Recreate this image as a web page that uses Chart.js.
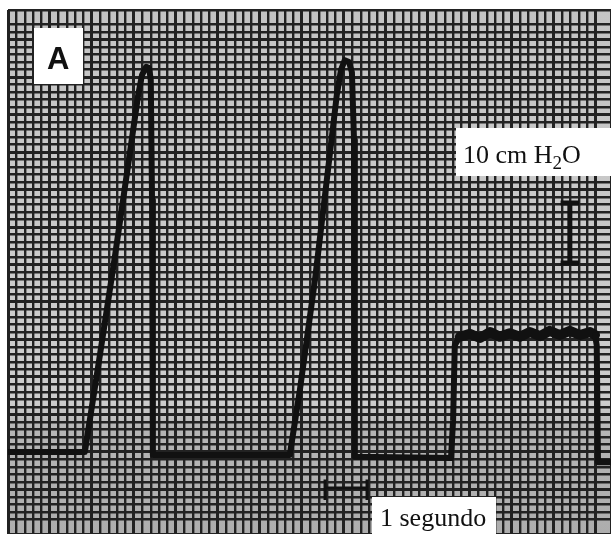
<!DOCTYPE html>
<html>
<head>
<meta charset="utf-8">
<script src="https://cdn.jsdelivr.net/npm/chart.js@4/dist/chart.umd.min.js"></script>
<style>
  html, body { margin: 0; padding: 0; background: #fff; }
  #wrap { width: 611px; height: 534px; }
</style>
</head>
<body>
<div id="wrap"><canvas id="presion"></canvas></div>
<script>
const tiempo = [0, 1.83, 2.19, 2.55, 2.86, 3.10, 3.19, 3.29, 3.36, 3.40, 3.43, 3.45,
  6.71, 6.95, 7.31, 7.62, 7.83, 7.93, 8.02, 8.12, 8.19, 8.24, 8.26,
  10.55, 10.60, 10.64, 10.76, 11.00, 11.24, 11.48, 11.71, 11.95, 12.19, 12.43,
  12.67, 12.90, 13.14, 13.38, 13.62, 13.86, 13.98, 14.02, 14.05, 14.36];
const presion = [0, 0, 16.2, 32.8, 47.8, 59.5, 62.8, 64.2, 64.0, 62.0, 42.0, -0.5,
  -0.5, 10.3, 28.7, 47.0, 59.5, 63.7, 65.3, 65.0, 63.3, 52.0, -0.8,
  -1.0, 5.3, 17.8, 19.2, 19.7, 19.0, 20.0, 19.2, 19.8, 19.2, 20.0,
  19.3, 20.2, 19.5, 20.2, 19.5, 20.0, 19.5, 17.8, -1.7, -1.7];

// barras de escala: 10 cm H2O y 1 segundo
const escalaPresion = { t: 13.38, desde: 31.5, hasta: 41.5 };
const escalaTiempo = { p: -6, desde: 7.55, hasta: 8.55 };

const traza = tiempo.map((t, i) => ({ x: t, y: presion[i] }));

const barras = [
  { x: escalaPresion.t - 0.22, y: escalaPresion.hasta },
  { x: escalaPresion.t + 0.22, y: escalaPresion.hasta },
  { x: escalaPresion.t, y: null },
  { x: escalaPresion.t, y: escalaPresion.hasta },
  { x: escalaPresion.t, y: escalaPresion.desde },
  { x: escalaPresion.t, y: null },
  { x: escalaPresion.t - 0.22, y: escalaPresion.desde },
  { x: escalaPresion.t + 0.22, y: escalaPresion.desde }
];
const barrasT = [
  { x: escalaTiempo.desde, y: escalaTiempo.p + 1.4 },
  { x: escalaTiempo.desde, y: escalaTiempo.p - 2 },
  { x: escalaTiempo.desde, y: null },
  { x: escalaTiempo.desde, y: escalaTiempo.p },
  { x: escalaTiempo.hasta, y: escalaTiempo.p },
  { x: escalaTiempo.hasta, y: null },
  { x: escalaTiempo.hasta, y: escalaTiempo.p + 1.4 },
  { x: escalaTiempo.hasta, y: escalaTiempo.p - 2 }
];

const papel = {
  id: 'papel',
  beforeDraw(chart) {
    const { ctx, chartArea: a } = chart;
    ctx.save();
    const g = ctx.createLinearGradient(0, a.top, 0, a.bottom);
    g.addColorStop(0, '#c4c4c4');
    g.addColorStop(0.75, '#cdcdcd');
    g.addColorStop(0.8, '#b5b5b5');
    g.addColorStop(1, '#adadad');
    ctx.fillStyle = g;
    ctx.fillRect(a.left, a.top, a.right - a.left, a.bottom - a.top);
    ctx.restore();
  }
};

const rotulos = {
  id: 'rotulos',
  afterDatasetsDraw(chart) {
    const ctx = chart.ctx;
    ctx.save();
    ctx.fillStyle = '#fff';
    ctx.fillRect(34, 28, 49, 56);
    ctx.fillRect(456, 128, 155, 48);
    ctx.fillRect(372, 497, 124, 37);

    ctx.fillStyle = '#111';
    ctx.textBaseline = 'alphabetic';
    ctx.font = 'bold 31px "Liberation Sans", Arial, sans-serif';
    ctx.fillText('A', 47, 69);

    ctx.font = '26px "Liberation Serif", "Times New Roman", serif';
    let x = 463;
    ctx.fillText('10 cm H', x, 163);
    x += ctx.measureText('10 cm H').width;
    ctx.font = '19px "Liberation Serif", "Times New Roman", serif';
    ctx.fillText('2', x, 169);
    x += ctx.measureText('2').width;
    ctx.font = '26px "Liberation Serif", "Times New Roman", serif';
    ctx.fillText('O', x, 163);

    ctx.font = '26px "Liberation Serif", "Times New Roman", serif';
    ctx.fillText('1 segundo', 380, 526);
    ctx.restore();
  }
};

new Chart('presion', {
  type: 'line',
  data: {
    datasets: [
      { data: traza, borderColor: '#111', borderWidth: 6, pointRadius: 0,
        tension: 0, borderJoinStyle: 'round', borderCapStyle: 'round',
        segment: {
          borderWidth: (c) => (c.p0.parsed.x > 10.7 && c.p1.parsed.x < 14.0 ? 10 : 6)
        } },
      { data: barras, borderColor: '#111', borderWidth: 5, pointRadius: 0, spanGaps: false },
      { data: barrasT, borderColor: '#111', borderWidth: 3, pointRadius: 0, spanGaps: false }
    ]
  },
  options: {
    responsive: true,
    maintainAspectRatio: false,
    animation: false,
    layout: { padding: { left: 8, top: 10, right: 0, bottom: 0 } },
    plugins: { legend: { display: false }, tooltip: { enabled: false } },
    scales: {
      x: {
        type: 'linear', min: 0, max: 14.36,
        ticks: { display: false, stepSize: 0.2 },
        border: { display: false },
        grid: {
          drawTicks: false,
          color: '#222',
          lineWidth: (c) => (c.index % 5 === 0 ? 3 : 2.4)
        }
      },
      y: {
        type: 'linear', min: -13.67, max: 73.67,
        ticks: { display: false, stepSize: 1.25 },
        border: { display: false },
        grid: {
          drawTicks: false,
          color: '#222',
          lineWidth: (c) => (c.index % 5 === 0 ? 3 : 2.4)
        }
      }
    }
  },
  plugins: [papel, rotulos]
});
</script>
</body>
</html>
